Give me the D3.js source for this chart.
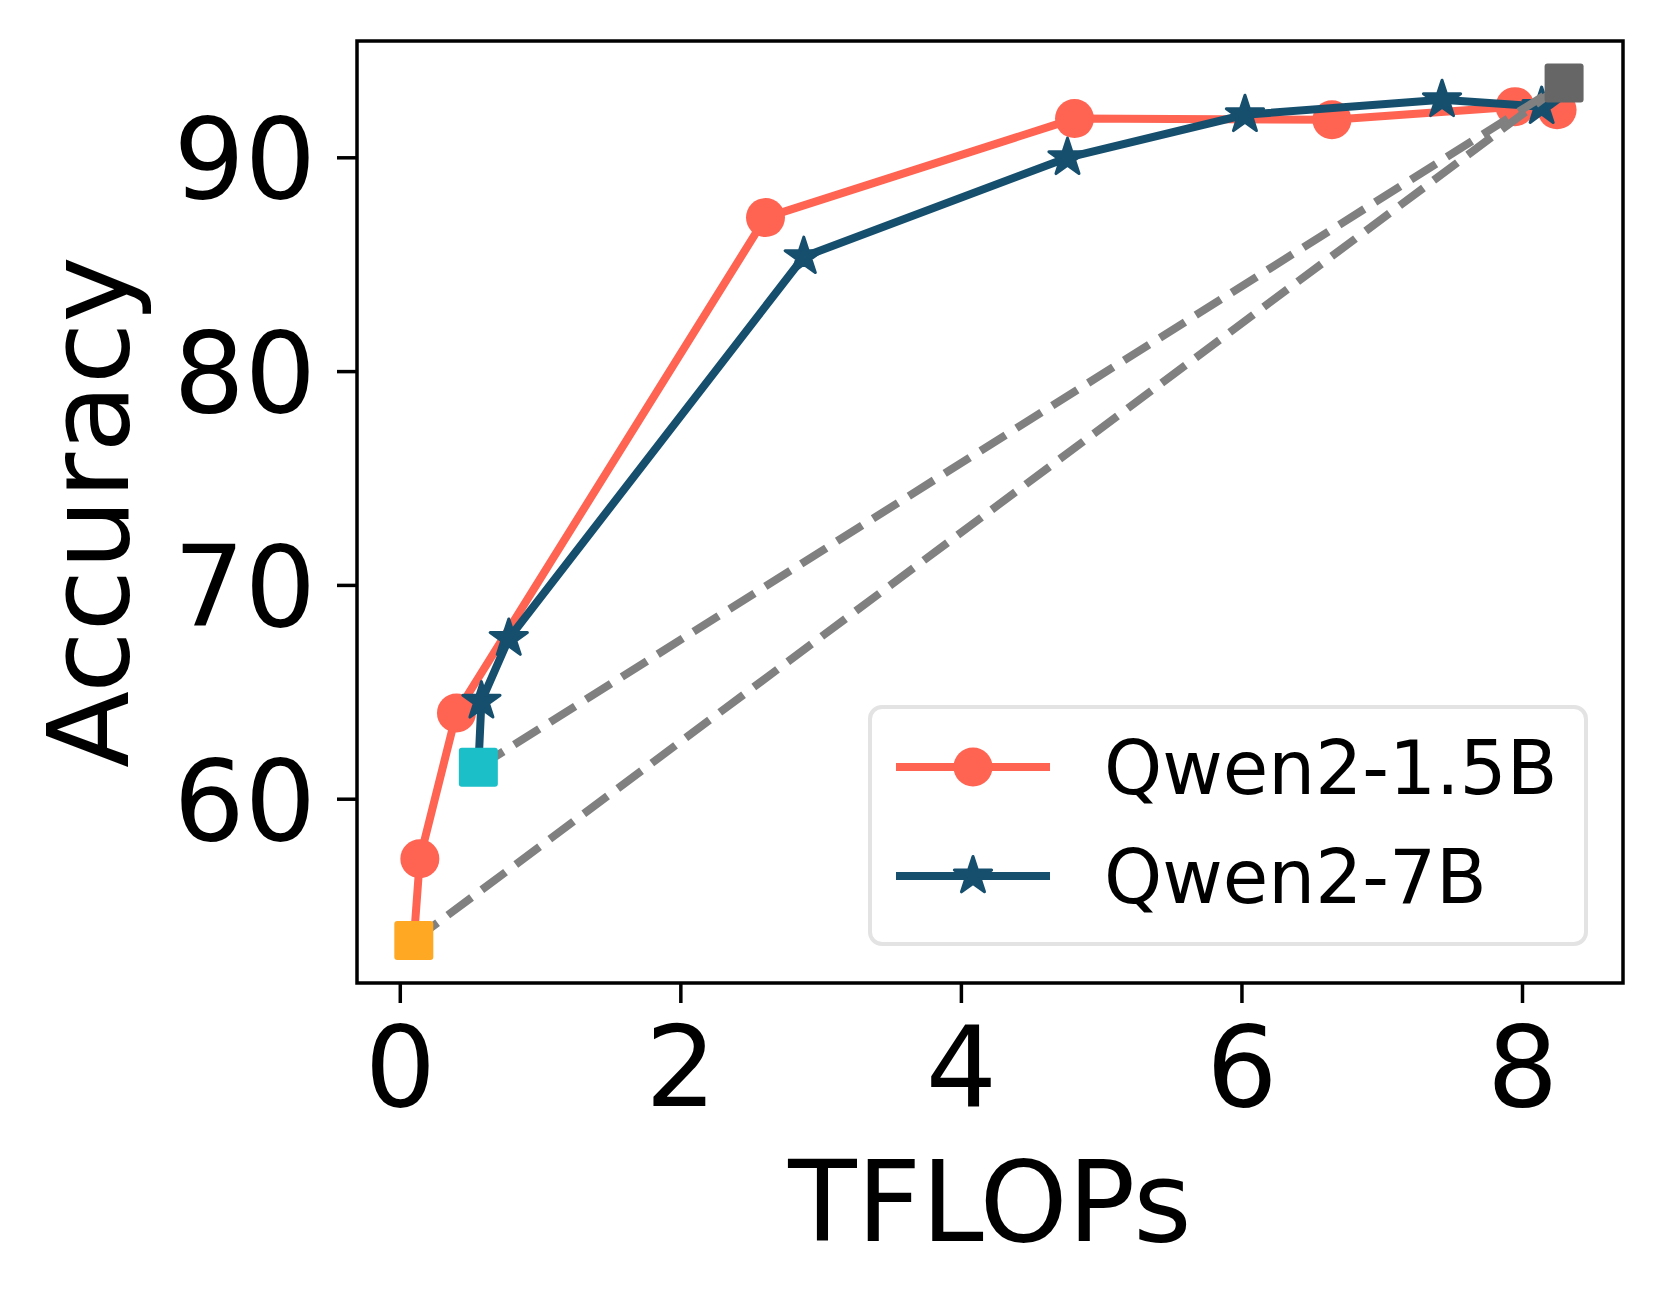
<!DOCTYPE html>
<html>
<head>
<meta charset="utf-8">
<script src="https://cdn.jsdelivr.net/npm/d3@7"></script>
<style>
  body { margin: 0; background: #fff; }
  text { font-family: "DejaVu Sans", sans-serif; fill: #000; }
</style>
</head>
<body>
<svg id="myGraph" width="1663" height="1306"></svg>
<script>
// data (first point of each line is the start square)
var seriesNames = ["Qwen2-1.5B", "Qwen2-7B"];
var qwen15X = [0.10, 0.143, 0.404, 2.607, 4.81, 6.645, 7.95, 8.25];
var qwen15Y = [53.37, 57.19, 64.01, 87.18, 91.81, 91.76, 92.37, 92.22];
var qwen7X = [0.56, 0.582, 0.777, 2.88, 4.76, 6.025, 7.43, 8.14];
var qwen7Y = [61.47, 64.56, 67.49, 85.35, 89.98, 91.99, 92.69, 92.37];
var squareX = [0.10, 0.56, 8.30];
var squareY = [53.37, 61.47, 93.47];
var xTicks = [0, 2, 4, 6, 8];
var yTicks = [60, 70, 80, 90];

var colors = ["#ff6352", "#164f6e"];
var squareColors = ["#ffa823", "#1bbfc8", "#666666"];

// plot area
var plotLeft = 357, plotRight = 1623, plotTop = 41, plotBottom = 983;
var lw = 8;

var svg = d3.select("#myGraph");
svg.append("rect").attr("width", 1663).attr("height", 1306).attr("fill", "#fff");

var x = d3.scaleLinear().domain([-0.305, 8.72]).range([plotLeft, plotRight]);
var y = d3.scaleLinear().domain([51.38, 95.44]).range([plotBottom, plotTop]);

// axes
var xAxis = d3.axisBottom(x).tickValues(xTicks).tickSize(20).tickPadding(12).tickFormat(d3.format("d"));
var yAxis = d3.axisLeft(y).tickValues(yTicks).tickSize(20).tickPadding(21).tickFormat(d3.format("d"));

var gx = svg.append("g")
  .attr("transform", "translate(0," + plotBottom + ")")
  .call(xAxis);
var gy = svg.append("g")
  .attr("transform", "translate(" + plotLeft + ",0)")
  .call(yAxis);

[gx, gy].forEach(function (g) {
  g.select(".domain").remove();
  g.selectAll(".tick line").attr("stroke", "#000").attr("stroke-width", 3.5);
  g.selectAll(".tick text").attr("font-size", 112).attr("font-family", "DejaVu Sans").attr("fill", "#000");
});
gx.selectAll(".tick text").attr("dy", null).attr("y", 123);
gy.selectAll(".tick text").attr("dy", "0.36em");

// axis labels
svg.append("text")
  .attr("x", (plotLeft + plotRight) / 2)
  .attr("y", 1241)
  .attr("text-anchor", "middle")
  .attr("font-size", 112)
  .text("TFLOPs");

svg.append("text")
  .attr("transform", "translate(128," + (plotTop + plotBottom) / 2 + ") rotate(-90)")
  .attr("text-anchor", "middle")
  .attr("font-size", 112)
  .text("Accuracy");

var line = d3.line()
  .x(function (d) { return x(d[0]); })
  .y(function (d) { return y(d[1]); });

var plot = svg.append("g");

// series lines + markers
var allX = [qwen15X, qwen7X];
var allY = [qwen15Y, qwen7Y];
var star = d3.symbol().type(d3.symbolStar).size(430);

allX.forEach(function (xs, s) {
  var pts = xs.map(function (v, i) { return [v, allY[s][i]]; });
  plot.append("path")
    .attr("d", line(pts))
    .attr("fill", "none")
    .attr("stroke", colors[s])
    .attr("stroke-width", lw)
    .attr("stroke-linejoin", "round");

  var marks = plot.selectAll(".m" + s).data(pts.slice(1)).enter();
  if (s === 0) {
    marks.append("circle")
      .attr("cx", function (d) { return x(d[0]); })
      .attr("cy", function (d) { return y(d[1]); })
      .attr("r", 19.5)
      .attr("fill", colors[s]);
  } else {
    marks.append("path")
      .attr("d", star)
      .attr("transform", function (d) { return "translate(" + x(d[0]) + "," + y(d[1]) + ")"; })
      .attr("fill", colors[s])
      .attr("stroke", colors[s])
      .attr("stroke-width", 3)
      .attr("stroke-linejoin", "round");
  }
});

// dashed lines from small-model squares to the big one
[0, 1].forEach(function (i) {
  plot.append("path")
    .attr("d", line([[squareX[i], squareY[i]], [squareX[2], squareY[2]]]))
    .attr("fill", "none")
    .attr("stroke", "#808080")
    .attr("stroke-width", lw)
    .attr("stroke-dasharray", (3.7 * lw) + "," + (1.6 * lw));
});

// squares
plot.selectAll(".sq").data(squareX).enter()
  .append("rect")
  .attr("x", function (d) { return x(d) - 19.5; })
  .attr("y", function (d, i) { return y(squareY[i]) - 19.5; })
  .attr("width", 39)
  .attr("height", 39)
  .attr("rx", 3)
  .attr("fill", function (d, i) { return squareColors[i]; });

// frame
svg.append("rect")
  .attr("x", plotLeft)
  .attr("y", plotTop)
  .attr("width", plotRight - plotLeft)
  .attr("height", plotBottom - plotTop)
  .attr("fill", "none")
  .attr("stroke", "#000")
  .attr("stroke-width", 3.5);

// legend
var legend = svg.append("g");
legend.append("rect")
  .attr("x", 870)
  .attr("y", 707)
  .attr("width", 716)
  .attr("height", 237)
  .attr("rx", 12)
  .attr("fill", "#fff")
  .attr("fill-opacity", 0.8)
  .attr("stroke", "#e3e3e3")
  .attr("stroke-width", 4);

var rowY = [767, 876];
seriesNames.forEach(function (name, i) {
  legend.append("line")
    .attr("x1", 896).attr("x2", 1050)
    .attr("y1", rowY[i]).attr("y2", rowY[i])
    .attr("stroke", colors[i])
    .attr("stroke-width", lw);
  if (i === 0) {
    legend.append("circle").attr("cx", 973).attr("cy", rowY[i]).attr("r", 19.5).attr("fill", colors[i]);
  } else {
    legend.append("path").attr("d", star).attr("transform", "translate(973," + rowY[i] + ")")
      .attr("fill", colors[i]).attr("stroke", colors[i]).attr("stroke-width", 3).attr("stroke-linejoin", "round");
  }
  legend.append("text")
    .attr("x", 1104)
    .attr("y", rowY[i])
    .attr("dy", "0.36em")
    .attr("font-size", 74)
    .text(name);
});
</script>
</body>
</html>
